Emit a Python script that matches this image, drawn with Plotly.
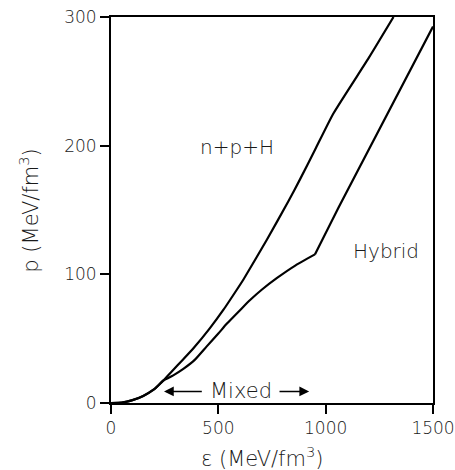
import plotly.graph_objects as go

# n+p+H equation of state (upper curve)
eps_nph = [0, 50, 100, 150, 200, 244, 283, 337, 384, 460, 524, 586, 617, 726, 827, 881, 951, 1036, 1200, 1316]
p_nph = [0, 0.3, 2.2, 5.5, 10.5, 17.5, 24.5, 34, 42.5, 58, 72.5, 88, 96, 126.9, 157, 174, 197, 225, 268, 300]

# Hybrid equation of state (lower curve); kink at end of mixed phase
eps_hyb = [0, 50, 100, 150, 200, 244, 290, 337, 390, 446, 500, 539, 609, 648, 702, 772, 860, 950, 1060, 1500]
p_hyb = [0, 0.3, 2.2, 5.5, 10.5, 17.5, 21.5, 26.5, 33.5, 44, 54, 61.5, 73.5, 80, 88, 97, 107, 115.5, 152, 292.6]
kink_index = 17

# mixed phase arrow extent
mixed_left = [430, 247]
mixed_right = [778, 923]
mixed_p = 9

x_ticks = [0, 500, 1000, 1500]
y_ticks = [0, 100, 200, 300]

FONT = "DejaVu Sans"
TXT = "#1a1a1a"

fig = go.Figure()
fig.add_trace(go.Scatter(x=eps_nph, y=p_nph, mode="lines",
                         line=dict(color="black", width=2.2, shape="spline", smoothing=0.5),
                         showlegend=False))
fig.add_trace(go.Scatter(x=eps_hyb[:kink_index + 1], y=p_hyb[:kink_index + 1], mode="lines",
                         line=dict(color="black", width=2.2, shape="spline", smoothing=0.5),
                         showlegend=False))
fig.add_trace(go.Scatter(x=eps_hyb[kink_index:], y=p_hyb[kink_index:], mode="lines",
                         line=dict(color="black", width=2.2), showlegend=False))

axis_common = dict(showgrid=False, zeroline=False, showline=True, linecolor="black",
                   linewidth=2, mirror=True, ticks="outside", ticklen=9, tickwidth=1.5,
                   tickcolor="black", tickfont=dict(family=FONT, size=17, color=TXT, weight=300),
                   automargin=False)

fig.update_xaxes(range=[0, 1500], tickvals=x_ticks, ticktext=[str(v) for v in x_ticks], **axis_common)
fig.update_yaxes(range=[0, 300], tickvals=y_ticks, ticktext=[str(v) for v in y_ticks], **axis_common)

anns = []
anns.append(dict(x=0.469, y=-0.139, xref="paper", yref="paper", showarrow=False,
                 text="ε (MeV/fm<sup>3</sup>)", font=dict(family=FONT, size=21, color=TXT, weight=300),
                 xanchor="center", yanchor="middle"))
anns.append(dict(x=-0.255, y=0.498, xref="paper", yref="paper", showarrow=False, textangle=-90,
                 text="p (MeV/fm<sup>3</sup>)", font=dict(family=FONT, size=21, color=TXT, weight=300),
                 xanchor="center", yanchor="middle"))
anns.append(dict(x=587, y=199, xref="x", yref="y", showarrow=False, text="n+p+H",
                 font=dict(family=FONT, size=20, color=TXT, weight=300)))
anns.append(dict(x=1282, y=118, xref="x", yref="y", showarrow=False, text="Hybrid",
                 font=dict(family=FONT, size=20, color=TXT, weight=300)))
anns.append(dict(x=(mixed_left[0] + mixed_right[0]) / 2, y=mixed_p, xref="x", yref="y", showarrow=False,
                 text="Mixed", font=dict(family=FONT, size=21, color=TXT, weight=300)))
anns.append(dict(x=mixed_left[1], y=mixed_p, ax=mixed_left[0], ay=mixed_p, xref="x", yref="y",
                 axref="x", ayref="y", showarrow=True, arrowhead=2, arrowsize=1.3, arrowwidth=1.5,
                 arrowcolor="black", text=""))
anns.append(dict(x=mixed_right[1], y=mixed_p, ax=mixed_right[0], ay=mixed_p, xref="x", yref="y",
                 axref="x", ayref="y", showarrow=True, arrowhead=2, arrowsize=1.3, arrowwidth=1.5,
                 arrowcolor="black", text=""))

fig.update_layout(width=455, height=470, margin=dict(l=111, r=22.3, t=17.3, b=66.7),
                  plot_bgcolor="white", paper_bgcolor="white", annotations=anns,
                  font=dict(family=FONT, color=TXT))

fig.write_html("out.html", config={"displayModeBar": False},
               post_script="document.body.style.margin='0';document.body.style.overflow='hidden';")
